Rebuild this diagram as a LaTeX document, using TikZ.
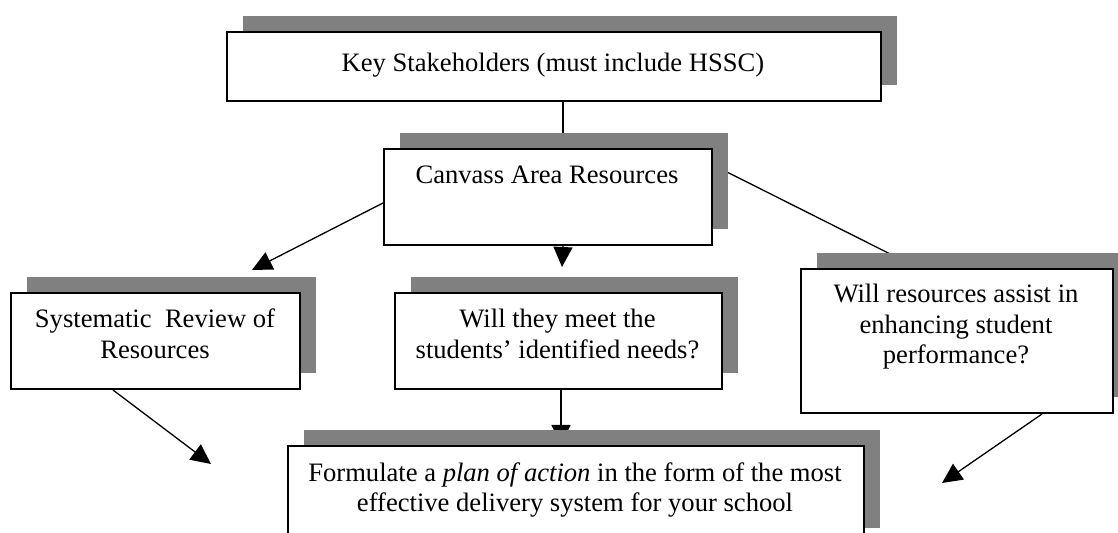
\documentclass[tikz,border=0pt]{standalone}
\usepackage{fontspec}
\setmainfont{Liberation Serif}
\usetikzlibrary{arrows.meta,shadows,backgrounds}
\definecolor{shadegray}{HTML}{808080}
\tikzset{
    panel/.style = {draw, line width = 1pt, fill = white, anchor = north west, inner sep = 0pt,
        general shadow = {fill = shadegray, shadow xshift = 8pt, shadow yshift = 8pt}},
    caption/.style = {text width = 290pt, align = flush center, anchor = base, inner sep = 0pt,
        font = \fontsize{13.3}{15.1}\selectfont},
    link/.style = {line width = 0.65pt},
    flow/.style = {link, -{Triangle[length = 10pt, width = 9.5pt]}}
}

\begin{document}
\begin{tikzpicture}[x = 0.5pt, y = -0.5pt]
        \useasboundingbox (0, 0) rectangle (1118, 533);
        \clip (0, 0) rectangle (1118, 533);

        % boxes
        \node[panel, minimum width = 327pt, minimum height = 34.5pt] (stake) at (226, 31) {};
        \node[panel, minimum width = 164pt, minimum height = 48pt] (canvass) at (383, 148) {};
        \node[panel, minimum width = 144.5pt, minimum height = 48pt] (review) at (10, 292) {};
        \node[panel, minimum width = 163.5pt, minimum height = 48pt] (needs) at (394, 292) {};
        \node[panel, minimum width = 156pt, minimum height = 72pt] (assist) at (800, 268) {};
        \node[panel, minimum width = 288pt, minimum height = 49pt] (plan) at (287, 445) {};

        % texts
        \node[caption] (stake-txt) at (553, 72) {Key Stakeholders (must include HSSC)};
        \node[caption] (canvass-txt) at (547, 184) {Canvass Area Resources};
        \node[caption] (review-txt) at (155, 328) {Systematic\ \ Review of\\Resources};
        \node[caption] (needs-txt) at (557.5, 328) {Will they meet the\\students’ identified needs?};
        \node[caption] (assist-txt) at (956, 303) {Will resources assist in\\enhancing student\\performance?};
        \node[caption] (plan-txt) at (575, 481) {Formulate a \textit{plan of action} in the form of the most\\effective delivery system for your school};

        \coordinate (review-in) at (252, 270);
        \coordinate (needs-in) at (562, 267);
        \coordinate (review-out) at (211, 464);
        \coordinate (assist-out) at (942, 483);

        % connectors go under the shadows
        \begin{pgfonlayer}{background}
            \draw[link] ([xshift = 4.5pt]stake.south) -- ([xshift = 7.5pt]canvass.north);
            \draw[flow] ([yshift = -3pt]canvass.west) -- (review-in);
            \draw[flow] ([xshift = 7.5pt]canvass.south) -- (needs-in);
            \draw[flow] ([yshift = 16pt]canvass.east) -- ([xshift = -15.5pt, yshift = -2pt]assist.north);
            \draw[flow] ([xshift = 1.25pt]needs.south) -- ([xshift = -7.5pt]plan.north);
            \draw[flow] ([xshift = 51.5pt]review.south west) -- (review-out);
            \draw[flow] ([xshift = 121pt]assist.south west) -- (assist-out);
        \end{pgfonlayer}
    \end{tikzpicture}
\end{document}
